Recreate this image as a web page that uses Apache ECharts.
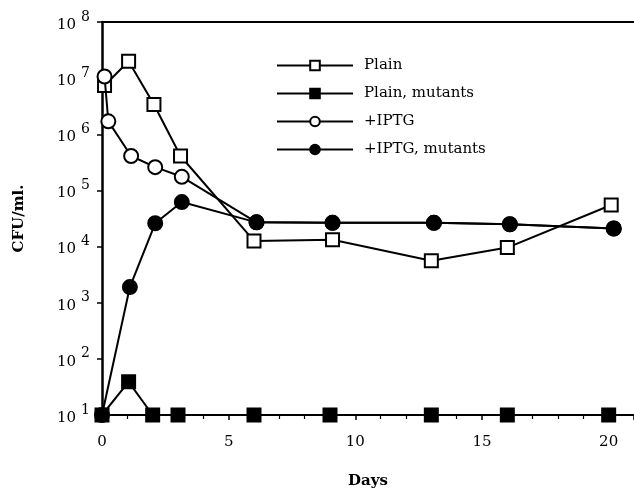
<!DOCTYPE html>
<html>
<head>
<meta charset="utf-8">
<script src="https://cdn.jsdelivr.net/npm/echarts@6/dist/echarts.min.js"></script>
<style>
  html, body { margin: 0; padding: 0; background: #fff; }
  #main { width: 634px; height: 491px; }
</style>
</head>
<body>
<div id="main"></div>
<script>
// data (days, CFU/ml)
var plainDays = [0.1, 1.05, 2.05, 3.1, 6, 9.1, 13, 16, 20.1];
var plainCfu = [7.4e6, 2.0e7, 3.4e6, 4.1e5, 1.26e4, 1.32e4, 5.6e3, 9.6e3, 5.5e4];

var plainMutDays = [0, 1.05, 2, 3, 6, 9, 13, 16, 20];
var plainMutCfu = [10, 39, 10, 10, 10, 10, 10, 10, 10];

var iptgDays = [0.1, 0.25, 1.15, 2.1, 3.15, 6.1, 9.1, 13.1, 16.1, 20.2];
var iptgCfu = [1.07e7, 1.7e6, 4.1e5, 2.6e5, 1.75e5, 2.7e4, 2.65e4, 2.65e4, 2.5e4, 2.1e4];

var iptgMutDays = [0, 1.1, 2.1, 3.15, 6.1, 9.1, 13.1, 16.1, 20.2];
var iptgMutCfu = [10, 1.9e3, 2.6e4, 6.2e4, 2.7e4, 2.65e4, 2.65e4, 2.5e4, 2.1e4];

var xTicks = [0, 5, 10, 15, 20];

function pairs(xs, ys) {
  return xs.map(function (x, i) { return [x, ys[i]]; });
}

var font = '"DejaVu Serif", "Liberation Serif", serif';
var chart = echarts.init(document.getElementById('main'));

function lineSeries(name, symbol, fill, data, z) {
  return {
    name: name,
    type: 'line',
    data: data,
    symbol: symbol,
    symbolSize: symbol === 'rect' ? 13 : 14,
    z: z,
    lineStyle: { color: '#000', width: 2 },
    itemStyle: { color: fill, borderColor: '#000', borderWidth: 2 },
    emphasis: { disabled: true },
    animation: false
  };
}

var option = {
  backgroundColor: '#fff',
  animation: false,
  grid: { left: 102, top: 22, right: 0, bottom: 76, containLabel: false, outerBoundsMode: 'none' },
  legend: {
    orient: 'vertical',
    left: 271,
    top: 53,
    itemWidth: 76,
    itemHeight: 12,
    itemGap: 13,
    textStyle: { fontFamily: font, fontSize: 15, color: '#000', padding: [0, 0, 0, 6] },
    data: ['Plain', 'Plain, mutants', '+IPTG', '+IPTG, mutants']
  },
  xAxis: [{
    type: 'value',
    min: 0,
    max: 21,
    interval: 5,
    name: 'Days',
    nameLocation: 'middle',
    nameGap: 59,
    nameTextStyle: { fontFamily: font, fontSize: 15, fontWeight: 'bold', color: '#000' },
    axisLine: { lineStyle: { color: '#000', width: 2 } },
    axisTick: { show: true, length: 5, lineStyle: { color: '#000', width: 1.5 } },
    minorTick: { show: true, splitNumber: 5, length: 4, lineStyle: { color: '#000', width: 1.2 } },
    splitLine: { show: false },
    axisLabel: {
      fontFamily: font, fontSize: 15, color: '#000', margin: 20,
      showMaxLabel: false,
      formatter: function (v) { return xTicks.indexOf(v) >= 0 ? String(v) : ''; }
    }
  }, {
    type: 'value',
    position: 'top',
    min: 0,
    max: 21,
    axisLine: { show: true, onZero: false, lineStyle: { color: '#000', width: 2 } },
    axisTick: { show: false },
    axisLabel: { show: false },
    splitLine: { show: false }
  }],
  yAxis: {
    type: 'log',
    logBase: 10,
    min: 10,
    max: 1e8,
    name: 'CFU/ml.',
    nameLocation: 'middle',
    nameGap: 75,
    nameTextStyle: { fontFamily: font, fontSize: 15, fontWeight: 'bold', color: '#000' },
    axisLine: { show: true, lineStyle: { color: '#000', width: 2.5 } },
    axisTick: { show: true, length: 5, lineStyle: { color: '#000', width: 1.5 } },
    splitLine: { show: false },
    axisLabel: {
      margin: 12,
      formatter: function (v) {
        var e = Math.round(Math.log10(v));
        return '{b|10}{e|' + e + '}';
      },
      rich: {
        b: { fontFamily: font, fontSize: 15, color: '#000', padding: [6, 5, 0, 0] },
        e: { fontFamily: font, fontSize: 14, color: '#000', padding: [0, 0, 10, 0] }
      }
    }
  },
  series: [
    lineSeries('Plain, mutants', 'rect', '#000', pairs(plainMutDays, plainMutCfu), 2),
    lineSeries('Plain', 'rect', '#fff', pairs(plainDays, plainCfu), 3),
    lineSeries('+IPTG', 'circle', '#fff', pairs(iptgDays, iptgCfu), 4),
    lineSeries('+IPTG, mutants', 'circle', '#000', pairs(iptgMutDays, iptgMutCfu), 5)
  ]
};

chart.setOption(option);
</script>
</body>
</html>
